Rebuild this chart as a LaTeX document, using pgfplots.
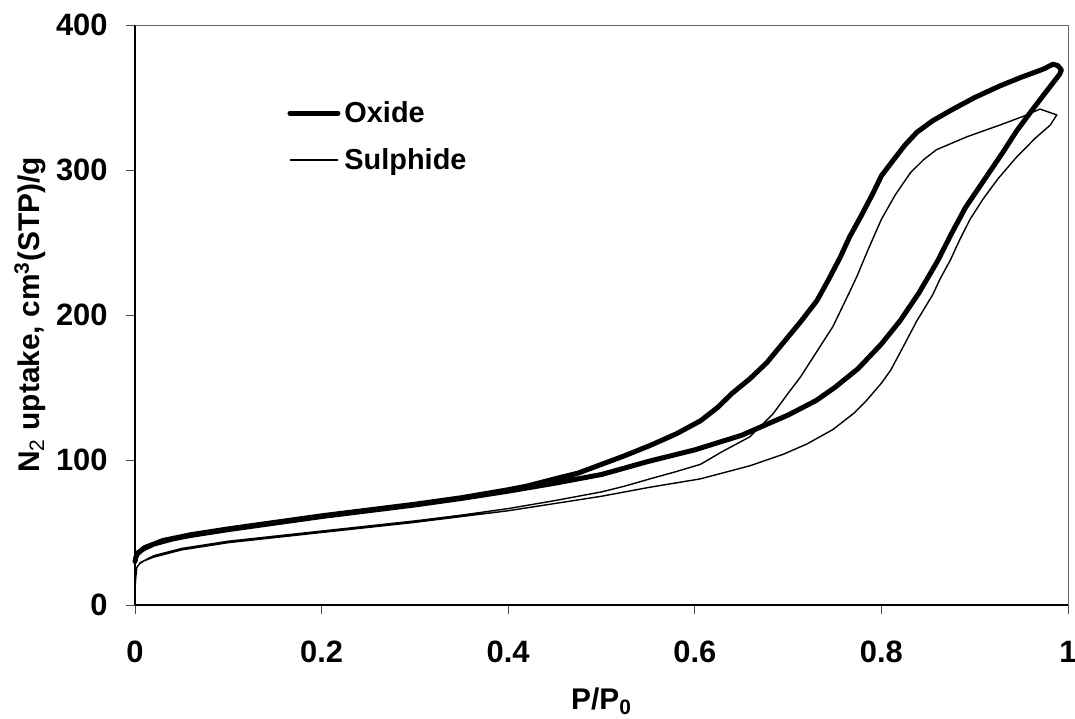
\documentclass[border=0pt]{standalone}
\usepackage{fontspec}
\setmainfont{Liberation Sans}
\usepackage{pgfplots}
\pgfplotsset{compat=1.18}
\pgfplotstableread{
x y
0.000 30
0.001 33
0.003 36
0.01 39
0.02 42
0.04 45.5
0.06 48
0.08 50
0.10 52
0.15 56.5
0.20 61
0.25 65
0.30 69
0.35 73.5
0.40 78.5
0.45 84
0.50 90
0.55 99
0.60 107
0.65 117
0.70 131
0.73 141
0.75 150
0.775 163
0.80 180
0.82 196
0.84 215
0.86 237
0.875 256
0.89 274
0.91 293
0.93 312
0.945 327
0.96 340
0.973 351
0.985 361
0.991 366
0.993 369
0.989 372
0.984 373
0.975 370
0.967 368
0.95 364
0.927 358
0.90 350
0.874 341
0.855 334
0.838 326
0.825 317
0.813 307
0.80 296
0.791 284
0.778 268
0.766 254
0.756 240
0.743 224
0.731 210
0.713 195
0.695 181
0.677 167
0.659 156
0.64 146
0.624 136
0.606 127
0.58 118
0.552 110
0.525 103
0.50 97
0.475 91
0.45 87
0.42 82
0.40 79.5
0.35 74
0.30 69.5
0.25 65.5
0.20 61.5
0.15 57
0.10 52.5
0.06 48.5
0.03 44.5
0.01 39.5
0.002 35
}\oxide
\pgfplotstableread{
x y
0.000 12
0.001 20
0.002 26
0.005 28.5
0.01 30.5
0.02 33
0.05 38
0.10 43
0.15 46.5
0.20 50
0.25 53.5
0.30 57
0.35 61
0.40 65
0.45 70
0.50 75
0.55 81
0.606 87
0.659 96
0.695 104
0.72 111
0.748 121
0.77 132
0.784 141
0.80 153
0.81 162
0.82 174
0.838 196
0.855 214
0.863 225
0.874 238
0.884 252
0.895 266
0.909 280
0.925 294
0.945 309
0.965 322
0.981 331
0.988 338
0.970 342
0.952 337
0.927 331
0.892 323
0.859 314
0.845 307
0.831 298
0.815 283
0.80 266
0.785 244
0.774 227
0.766 216
0.748 192
0.73 174
0.713 157
0.70 146
0.684 132
0.67 123
0.659 116
0.63 106
0.606 97
0.58 92
0.552 87
0.525 82
0.50 78
0.45 72
0.40 66.5
0.35 62
0.30 58
0.20 51
0.10 44
0.05 39
0.02 34
0.005 29
}\sulphide
\begin{document}
\begin{tikzpicture}
\begin{axis}[
  name=ax,
  scale only axis, width=466.5bp, height=290bp,
  xmin=0, xmax=1, ymin=0, ymax=400,
  clip=false,
  axis lines=left,
  axis line style={-, line width=1.1bp, black},
  xtick={0,0.2,0.4,0.6,0.8,1}, xticklabels={0,0.2,0.4,0.6,0.8,1},
  ytick={0,100,200,300,400}, yticklabels={0,100,200,300,400},
  tick align=outside, major tick length=4.5bp,
  tick style={line width=0.5bp, black!70},
  ticklabel style={font=\fontsize{15.5}{18}\selectfont\bfseries, inner sep=0pt},
  xticklabel style={anchor=center, yshift=-19bp},
  yticklabel style={anchor=east, xshift=-9bp},
  every axis x label/.style={at={(rel axis cs:0.5,-0.166)}, anchor=center},
  every axis y label/.style={at={(rel axis cs:-0.1125,0.5)}, rotate=90, anchor=center},
  label style={font=\fontsize{15}{18}\selectfont\bfseries},
  xlabel={P/P\textsubscript{0}},
  ylabel={N\textsubscript{\mdseries 2} uptake, cm\textsuperscript{3}(STP)/g},
  legend style={draw=none, fill=none, at={(rel axis cs:0.163,0.876)}, anchor=north west,
    font=\fontsize{14.5}{17}\selectfont\bfseries, row sep=7.5bp, inner sep=0pt},
  legend cell align=left,
  legend image code/.code={\draw[#1] (0bp,0bp) -- (24bp,0bp);},
]
\addplot[black, line width=2.5bp, line join=round, line cap=round] table[x=x,y=y] {\oxide};
\addlegendentry{Oxide}
\addplot[black, line width=0.7bp, line join=round] table[x=x,y=y] {\sulphide};
\addlegendentry{Sulphide}
\draw[line width=0.5bp, black!60] (rel axis cs:0,1) -- (rel axis cs:1,1) -- (rel axis cs:1,0);
\end{axis}
\pgfresetboundingbox
\path ([xshift=-67.5bp,yshift=-57bp]ax.south west) rectangle ([xshift=3.5bp,yshift=12.5bp]ax.north east);
\end{tikzpicture}
\end{document}
